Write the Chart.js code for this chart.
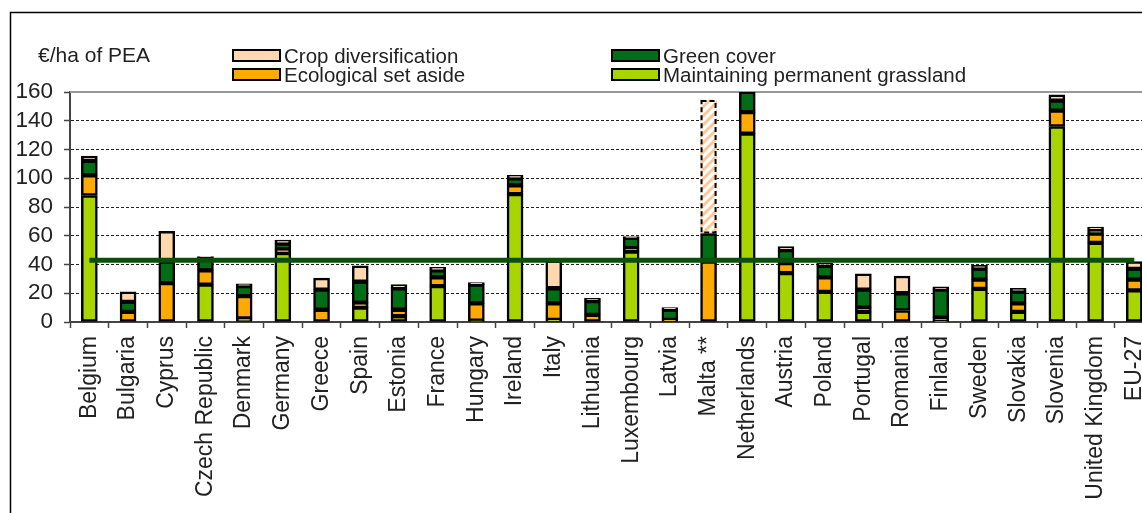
<!DOCTYPE html>
<html>
<head>
<meta charset="utf-8">
<script src="https://cdn.jsdelivr.net/npm/chart.js@4.4.1/dist/chart.umd.min.js"></script>
<style>
    html, body { margin: 0; padding: 0; background: #fff; overflow: hidden; }
    #wrap { position: absolute; left: 0; top: 0; width: 1170px; height: 513px; }
</style>
</head>
<body>
<div id="wrap"><canvas id="greeningChart"></canvas></div>
<script>
const countries = ["Belgium", "Bulgaria", "Cyprus", "Czech Republic", "Denmark", "Germany", "Greece", "Spain",
    "Estonia", "France", "Hungary", "Ireland", "Italy", "Lithuania", "Luxembourg", "Latvia", "Malta **",
    "Netherlands", "Austria", "Poland", "Portugal", "Romania", "Finland", "Sweden", "Slovakia", "Slovenia",
    "United Kingdom", "EU-27"];

// €/ha of PEA
const grassland  = [88, 0, 0, 26, 2.5, 48, 0, 10, 4, 25, 1, 89, 1.5, 0, 49, 0, 0, 131, 34, 21, 7, 0, 0.5, 23, 7, 136, 55, 22];
const setAside   = [14, 7, 27, 10, 15.5, 2.5, 8.5, 3.5, 4.5, 6, 12, 6, 11.5, 5, 2.5, 1.5, 42, 15, 7, 10, 3, 8, 2.5, 6.5, 6, 11, 6.5, 7.5];
const greenCover = [10, 7, 15, 9, 7, 4, 14, 14.5, 15, 5, 13, 5, 10.5, 9.5, 7, 7, 19.5, 14, 9, 8, 12.5, 12, 19.5, 7.5, 8, 7, 2.5, 7.5];
const cropDiv    = [3.5, 7, 21, 0.5, 1.5, 2.5, 8, 11, 2.5, 2, 1.5, 2, 19, 2, 1, 1.5, 0, 2, 2.5, 2, 11, 12, 2, 2.5, 2.5, 4, 2, 5];
// Malta crop diversification, shown hatched
const cropDivHatched = [null, null, null, null, null, null, null, null, null, null, null, null, null, null, null, null, 93,
    null, null, null, null, null, null, null, null, null, null, null];
const euAverage = 43;

const colors = {
    crop: '#ffd8ae',
    setAside: '#ffaa00',
    green: '#006e14',
    grass: '#a8d400',
    avg: '#0b4f0b'
};

function hatchPattern() {
    const c = document.createElement('canvas');
    c.width = 9;
    c.height = 9;
    const g = c.getContext('2d');
    g.fillStyle = '#fff';
    g.fillRect(0, 0, 9, 9);
    g.strokeStyle = '#ffc898';
    g.lineWidth = 3;
    g.beginPath();
    g.moveTo(-2, 11); g.lineTo(11, -2);
    g.moveTo(-6, 6); g.lineTo(6, -6);
    g.moveTo(3, 15); g.lineTo(15, 3);
    g.stroke();
    return g.createPattern(c, 'repeat');
}

const fontFamily = '"Liberation Sans", Arial, sans-serif';

const frameAndLegend = {
    id: 'frameAndLegend',
    beforeDraw(chart) {
        const ctx = chart.ctx;
        ctx.save();
        ctx.fillStyle = '#fff';
        ctx.fillRect(0, 0, chart.width, chart.height);
        ctx.strokeStyle = '#000';
        ctx.lineWidth = 1.5;
        ctx.strokeRect(10.5, 12.5, 2000, 1000);
        ctx.restore();
    },
    beforeDatasetsDraw(chart) {
        // solid grey top line at 160
        const ctx = chart.ctx;
        const area = chart.chartArea;
        const y = chart.scales.y.getPixelForValue(160);
        ctx.save();
        ctx.strokeStyle = '#999';
        ctx.lineWidth = 2;
        ctx.beginPath();
        ctx.moveTo(area.left, y);
        ctx.lineTo(area.right, y);
        ctx.stroke();
        ctx.restore();
    },
    afterDatasetsDraw(chart) {
        // dashed outline of the hatched Malta bar
        const ctx = chart.ctx;
        const meta = chart.getDatasetMeta(4);
        meta.data.forEach((el, i) => {
            if (cropDivHatched[i] == null) return;
            const w = el.width;
            ctx.save();
            ctx.strokeStyle = '#000';
            ctx.lineWidth = 2;
            ctx.setLineDash([5, 3]);
            ctx.strokeRect(el.x - w / 2 + 1, el.y + 1, w - 2, el.base - el.y - 2);
            ctx.restore();
        });
    },
    afterDraw(chart) {
        const ctx = chart.ctx;
        ctx.save();
        ctx.fillStyle = '#222';
        ctx.textBaseline = 'middle';
        ctx.font = '21px ' + fontFamily;
        ctx.fillText('€/ha of PEA', 38, 56);
        ctx.font = '20.5px ' + fontFamily;
        const items = [
            { x: 233, w: 47, y: 56, color: colors.crop, label: 'Crop diversification' },
            { x: 233, w: 47, y: 75, color: colors.setAside, label: 'Ecological set aside' },
            { x: 612, w: 47, y: 56, color: colors.green, label: 'Green cover' },
            { x: 612, w: 47, y: 75, color: colors.grass, label: 'Maintaining permanent grassland' }
        ];
        items.forEach(it => {
            ctx.fillStyle = it.color;
            ctx.fillRect(it.x, it.y - 6, it.w, 11);
            ctx.strokeStyle = '#000';
            ctx.lineWidth = 2;
            ctx.strokeRect(it.x, it.y - 6, it.w, 11);
            ctx.fillStyle = '#222';
            ctx.fillText(it.label, it.x + it.w + 4, it.y + 1);
        });
        ctx.restore();
    }
};

const barStyle = {
    type: 'bar',
    borderColor: '#000',
    borderWidth: 2.5,
    borderSkipped: false,
    barThickness: 16,
    stack: 'pea',
    order: 1
};

new Chart(document.getElementById('greeningChart'), {
    data: {
        labels: countries,
        datasets: [
            { ...barStyle, label: 'Maintaining permanent grassland', data: grassland, backgroundColor: colors.grass },
            { ...barStyle, label: 'Ecological set aside', data: setAside, backgroundColor: colors.setAside },
            { ...barStyle, label: 'Green cover', data: greenCover, backgroundColor: colors.green },
            { ...barStyle, label: 'Crop diversification', data: cropDiv, backgroundColor: colors.crop },
            { ...barStyle, label: 'Crop diversification (Malta)', data: cropDivHatched, backgroundColor: hatchPattern(), borderWidth: 0 },
            {
                type: 'line',
                label: 'EU average',
                data: countries.map(() => euAverage),
                borderColor: colors.avg,
                borderWidth: 5,
                pointRadius: 0,
                stack: 'avg',
                order: 0
            }
        ]
    },
    options: {
        responsive: true,
        maintainAspectRatio: false,
        animation: false,
        layout: { padding: { left: 10, top: 92, right: 7, bottom: 0 } },
        plugins: {
            legend: { display: false },
            tooltip: { enabled: false }
        },
        scales: {
            x: {
                stacked: true,
                offset: true,
                grid: {
                    offset: true,
                    drawOnChartArea: false,
                    tickLength: 6,
                    tickColor: '#444',
                    tickWidth: 1.5
                },
                border: { color: '#444', width: 2 },
                ticks: {
                    autoSkip: false,
                    minRotation: 90,
                    maxRotation: 90,
                    padding: 8,
                    color: '#222',
                    font: { family: fontFamily, size: 23 }
                },
                afterFit(scale) { scale.height = 191; }
            },
            y: {
                stacked: true,
                min: 0,
                max: 160,
                grid: {
                    color: ctx => (ctx.tick.value === 160 || ctx.tick.value === 0) ? 'rgba(0,0,0,0)' : '#222',
                    lineWidth: 1,
                    tickLength: 6,
                    tickColor: '#444',
                    tickWidth: 1.5
                },
                border: { color: '#444', width: 2, dash: [3, 2] },
                ticks: {
                    stepSize: 20,
                    autoSkip: false,
                    padding: 11,
                    color: '#222',
                    font: { family: fontFamily, size: 22.5 }
                },
                afterFit(scale) { scale.width = 60; }
            }
        }
    },
    plugins: [frameAndLegend]
});
</script>
</body>
</html>
